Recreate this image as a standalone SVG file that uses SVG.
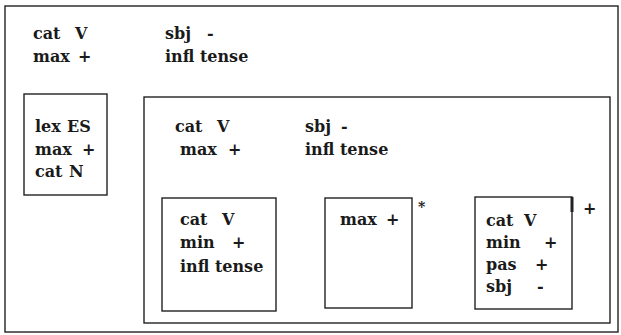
<svg xmlns="http://www.w3.org/2000/svg" width="621" height="335" viewBox="0 0 621 335">
<style>
.b{fill:none;stroke:#222;stroke-width:1.4}
text{font-family:"DejaVu Serif","Liberation Serif",serif;font-size:16px;font-weight:bold;fill:#1a1a1a}
.s{font-size:14px}
</style>
<rect width="621" height="335" fill="#fff"/>
<g id="outer">
<rect class="b" x="5" y="6" width="613" height="326"/>
<text x="33" y="39">cat</text><text x="75" y="39">V</text>
<text x="33" y="62">max</text><text x="78" y="62">+</text>
<text x="165" y="39">sbj</text><text x="207" y="39">-</text>
<text x="165" y="62">infl tense</text>
</g>
<g id="lex">
<rect class="b" x="24" y="94" width="83" height="101"/>
<text x="35" y="132">lex</text><text x="67" y="132">ES</text>
<text x="35" y="155">max</text><text x="82" y="155">+</text>
<text x="35" y="177">cat</text><text x="69" y="177">N</text>
</g>
<g id="vp">
<rect class="b" x="144" y="97" width="466" height="226"/>
<text x="175" y="132">cat</text><text x="217" y="132">V</text>
<text x="180" y="155">max</text><text x="228" y="155">+</text>
<text x="305" y="132">sbj</text><text x="341" y="132">-</text>
<text x="305" y="155">infl tense</text>
</g>
<g id="verb">
<rect class="b" x="162" y="198" width="114" height="113"/>
<text x="180" y="225">cat</text><text x="222" y="225">V</text>
<text x="180" y="248">min</text><text x="232" y="248">+</text>
<text x="180" y="272">infl tense</text>
</g>
<g id="star">
<rect class="b" x="325" y="198" width="87" height="110"/>
<text x="340" y="225">max</text><text x="386" y="225">+</text>
<text x="418" y="212" class="s">*</text>
</g>
<g id="plus">
<rect class="b" x="475" y="197" width="97" height="112"/>
<line x1="572" y1="197" x2="572" y2="212" stroke="#222" stroke-width="3"/>
<text x="486" y="226">cat</text><text x="524" y="226">V</text>
<text x="486" y="248">min</text><text x="544" y="248">+</text>
<text x="486" y="270">pas</text><text x="535" y="270">+</text>
<text x="486" y="292">sbj</text><text x="537" y="292">-</text>
<text x="583" y="214">+</text>
</g>
</svg>
